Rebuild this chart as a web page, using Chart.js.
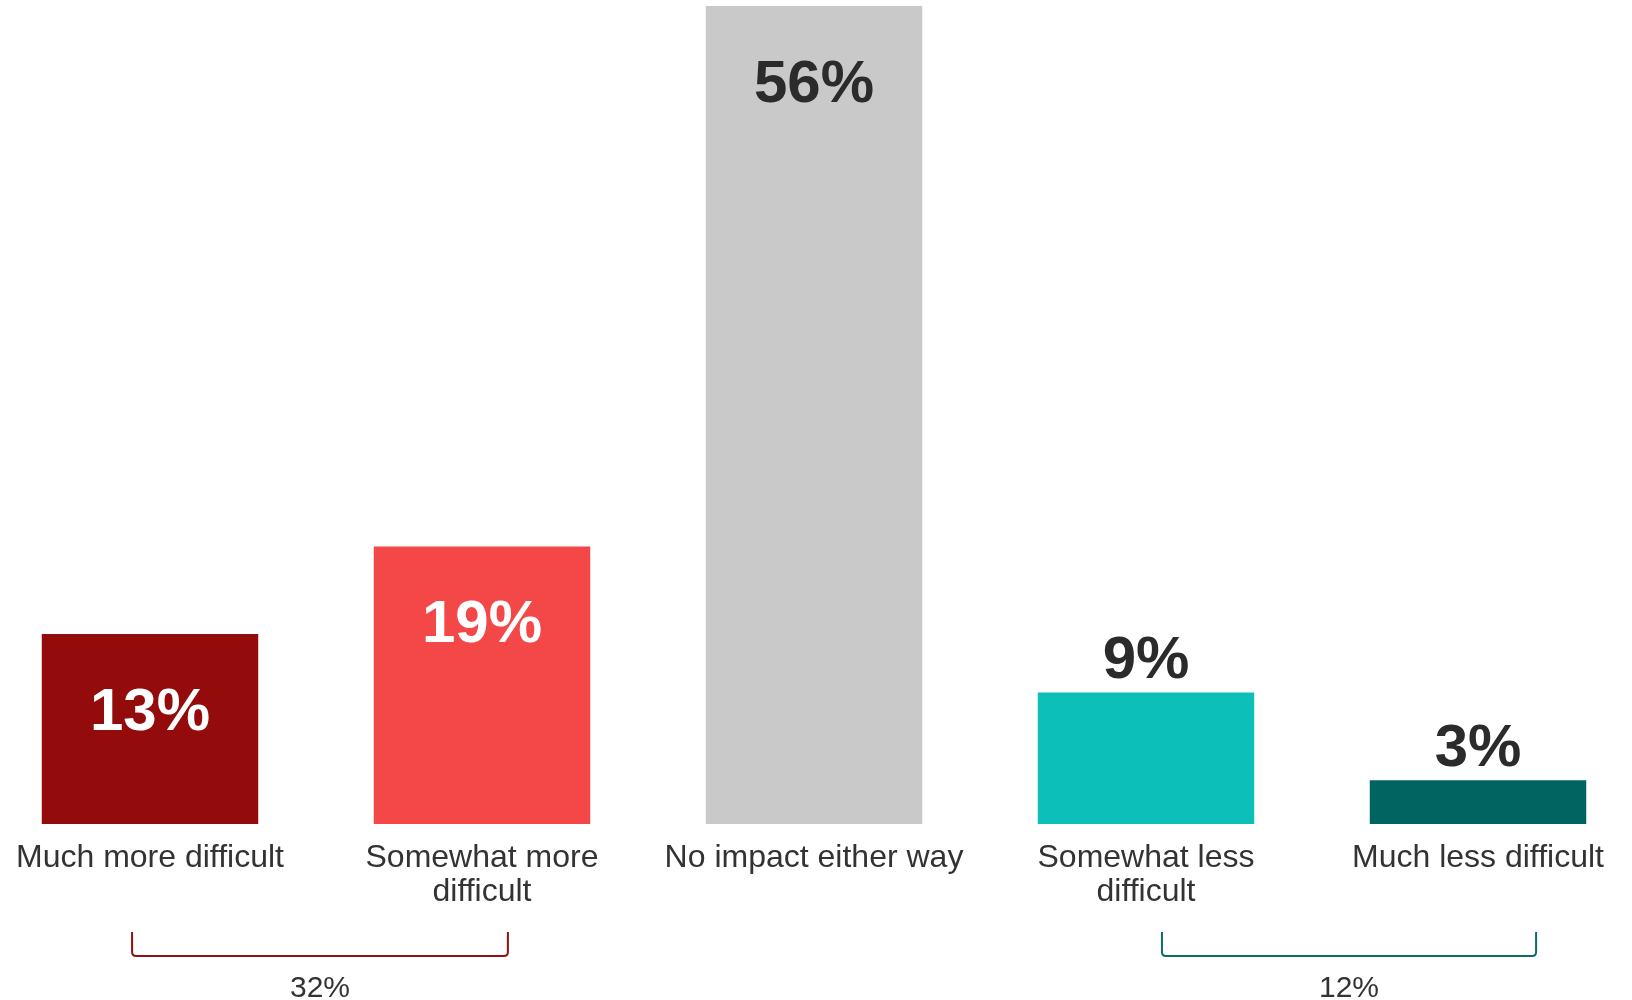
<!DOCTYPE html>
<html lang="en">
  <head>
    <meta charset="UTF-8" />
    <title>Difficulty impact</title>
    <style>
      html, body { margin: 0; padding: 0; background: #fff; overflow: hidden; }
      #wrap { position: relative; left: -16px; width: 1660px; height: 1000px; }
    </style>
  </head>
  <body>
    <div id="wrap"><canvas id="myChart"></canvas></div>
  </body>
</html>
<script src="https://cdn.jsdelivr.net/npm/chart.js"></script>

<script>
  const categories = [
    "Much more difficult",
    ["Somewhat more", "difficult"],
    "No impact either way",
    ["Somewhat less", "difficult"],
    "Much less difficult",
  ];
  const values = [13, 19, 56, 9, 3];
  const barColors = ["#940b0b", "#f44848", "#c9c9c9", "#0cc0b9", "#006461"];
  const labelColors = ["#ffffff", "#ffffff", "#2b2b2b", "#2b2b2b", "#2b2b2b"];

  // net totals shown under the bracketed groups (from/to are category positions)
  const groups = [
    { from: -0.054, to: 1.078, total: "32%", color: "#941010" },
    { from: 3.048, to: 4.175, total: "12%", color: "#0e6a64" },
  ];

  const font = '"Liberation Sans", Arial, sans-serif';

  const valueLabels = {
    id: "valueLabels",
    afterDatasetsDraw(chart) {
      const c = chart.ctx;
      const meta = chart.getDatasetMeta(0);
      c.save();
      c.font = "bold 60px " + font;
      c.textAlign = "center";
      c.textBaseline = "middle";
      meta.data.forEach((bar, i) => {
        const inside = values[i] > 10;
        c.fillStyle = labelColors[i];
        c.fillText(values[i] + "%", bar.x, inside ? bar.y + 79 : bar.y - 31);
      });
      c.restore();
    },
  };

  const brackets = {
    id: "brackets",
    afterDraw(chart) {
      const c = chart.ctx;
      const x = chart.scales.x;
      c.save();
      groups.forEach((g) => {
        const x1 = x.getPixelForValue(g.from);
        const x2 = x.getPixelForValue(g.to);
        c.strokeStyle = g.color;
        c.lineWidth = 2;
        c.beginPath();
        c.moveTo(x1, 932);
        c.lineTo(x1, 952);
        c.quadraticCurveTo(x1, 956, x1 + 4, 956);
        c.lineTo(x2 - 4, 956);
        c.quadraticCurveTo(x2, 956, x2, 952);
        c.lineTo(x2, 932);
        c.stroke();
        c.fillStyle = "#333333";
        c.font = "30px " + font;
        c.textAlign = "center";
        c.textBaseline = "middle";
        c.fillText(g.total, (x1 + x2) / 2, 989);
      });
      c.restore();
    },
  };

  const ctx = document.getElementById("myChart").getContext("2d");
  const myChart = new Chart(ctx, {
    type: "bar",
    data: {
      labels: categories,
      datasets: [
        {
          data: values,
          backgroundColor: barColors,
          barPercentage: 0.652,
          categoryPercentage: 1,
        },
      ],
    },
    options: {
      responsive: true,
      maintainAspectRatio: false,
      animation: false,
      layout: { padding: { top: 6, left: 0, right: 0, bottom: 0 } },
      plugins: {
        legend: { display: false },
        tooltip: { enabled: false },
      },
      scales: {
        y: {
          display: false,
          min: 0,
          max: 56,
        },
        x: {
          grid: { display: false, drawTicks: false },
          border: { display: false },
          ticks: {
            color: "#333333",
            padding: 17,
            maxRotation: 0,
            autoSkip: false,
            font: { family: font, size: 32, lineHeight: 1.06 },
          },
          afterFit(scale) {
            scale.height = 176;
          },
        },
      },
    },
    plugins: [valueLabels, brackets],
  });
</script>
